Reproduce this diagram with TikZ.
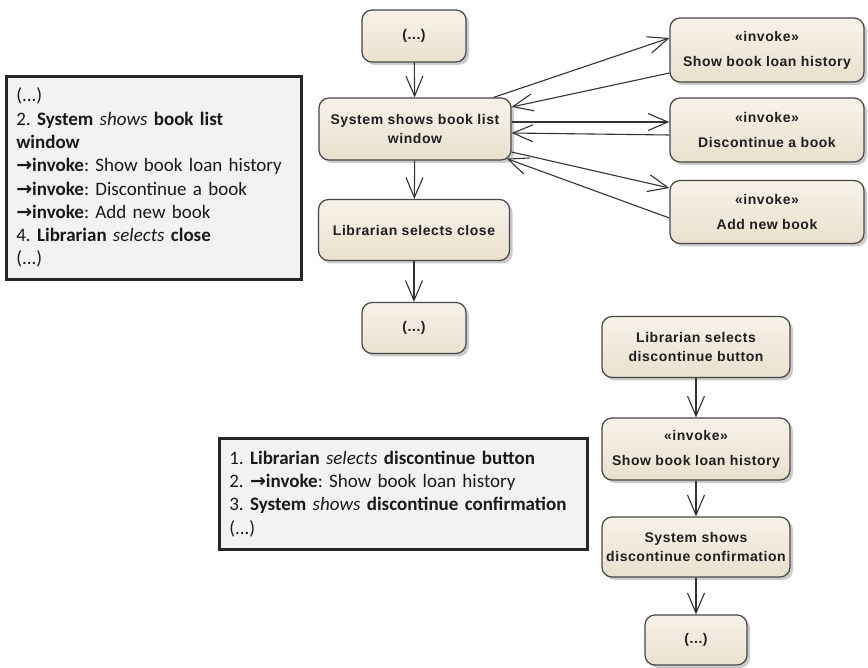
\documentclass[tikz,border=0pt]{standalone}
\usepackage{fontspec}
\setmainfont{Liberation Sans}
\newfontfamily\actfont[LetterSpace=4]{Liberation Sans}
\newfontfamily\boxfont{Carlito}
\newfontfamily\symfont{DejaVu Sans}
\usetikzlibrary{arrows.meta,shadows,calc}
\definecolor{nodetop}{RGB}{247,242,233}
\definecolor{nodebot}{RGB}{234,224,206}
\definecolor{notefill}{RGB}{242,242,242}
\newcommand{\invarrow}{{\symfont\bfseries →}}
\frenchspacing
\begin{document}
\begin{tikzpicture}[x=1pt,y=-1pt,
  act/.style={draw=black!72, line width=1.2pt, rounded corners=10pt,
    top color=nodetop, bottom color=nodebot,
    drop shadow={shadow xshift=3pt,shadow yshift=-3pt,fill=black!40,opacity=0.5},
    font=\actfont\fontsize{14}{19}\selectfont\bfseries, align=center, inner sep=0pt,
    text=black!88},
  flow/.style={draw=black!80, line width=1.1pt,
    -{Straight Barb[length=20pt,width=17pt,line width=1.1pt]}},
  note/.style={draw=black!85, line width=2.6pt, fill=notefill,
    drop shadow={shadow xshift=2pt,shadow yshift=-2pt,fill=black!30,opacity=0.5},
    font=\boxfont\fontsize{19}{23.3}\selectfont, align=left, anchor=north west,
    inner xsep=10pt, inner ysep=0pt, text=black!90}
]
\useasboundingbox (0,0) rectangle (868,668);
\fill[white] (0,0) rectangle (868,668);

% main flow
\node[act, minimum width=104pt, minimum height=52pt] (start1) at (414,36) {(...)};
\node[act, minimum width=192pt, minimum height=62pt] (sys) at (415,129) {System shows book list\\window};
\node[act, minimum width=191pt, minimum height=61pt] (close) at (414,230) {Librarian selects close};
\node[act, minimum width=104pt, minimum height=51pt] (end1) at (414,328) {(...)};

% invoked activities
\node[act, minimum width=194pt, minimum height=64pt] (hist) at (767,50) {«invoke»\\[6pt]Show book loan history};
\node[act, minimum width=194pt, minimum height=64pt] (disc) at (767,130) {«invoke»\\[6pt]Discontinue a book};
\node[act, minimum width=194pt, minimum height=63pt] (addb) at (767,212) {«invoke»\\[6pt]Add new book};

% discontinue flow
\node[act, minimum width=188pt, minimum height=61pt] (lsd) at (696,347) {Librarian selects\\discontinue button};
\node[act, minimum width=188pt, minimum height=62pt] (inv) at (696,449) {«invoke»\\[6pt]Show book loan history};
\node[act, minimum width=188pt, minimum height=60pt] (ssd) at (696,547) {System shows\\discontinue confirmation};
\node[act, minimum width=102pt, minimum height=50pt] (end2) at (696,640) {(...)};

% use case text boxes
\node[note, text width=275pt, minimum height=203pt] (uc1) at (5,75) {%
(...)\\
2. \textbf{System} \textit{shows} \textbf{book list}\\
\textbf{window}\\
\invarrow\textbf{invoke}: Show book loan history\\
\invarrow\textbf{invoke}: Discontinue a book\\
\invarrow\textbf{invoke}: Add new book\\
4. \textbf{Librarian} \textit{selects} \textbf{close}\\
(...)};
\node[note, text width=348pt, minimum height=111pt] (uc2) at (218,437) {%
1. \textbf{Librarian} \textit{selects} \textbf{discontinue button}\\
2. \invarrow\textbf{invoke}: Show book loan history\\
3. \textbf{System} \textit{shows} \textbf{discontinue confirmation}\\
(...)};

% vertical flows
\draw[flow] (start1) -- (sys);
\draw[flow] (sys) -- (close);
\draw[flow] (close) -- (end1);
\draw[flow] (lsd) -- (inv);
\draw[flow] (inv) -- (ssd);
\draw[flow] (ssd) -- (end2);

% invoke calls and returns
\draw[flow] ([xshift=-18pt]sys.north east) -- ([yshift=12pt]hist.west);
\draw[flow] ([yshift=-23pt]hist.west) -- ([yshift=22pt]sys.east);
\draw[flow] ([yshift=7pt]sys.east) -- ([yshift=8pt]disc.west);
\draw[flow] ([yshift=-5pt]disc.west) -- ([yshift=-4pt]sys.east);
\draw[flow] ([yshift=-23pt]sys.east) -- ([yshift=24pt]addb.west);
\draw[flow] ([yshift=-6pt]addb.west) -- ([xshift=-5pt,yshift=2pt]sys.south east);
\end{tikzpicture}
\end{document}
